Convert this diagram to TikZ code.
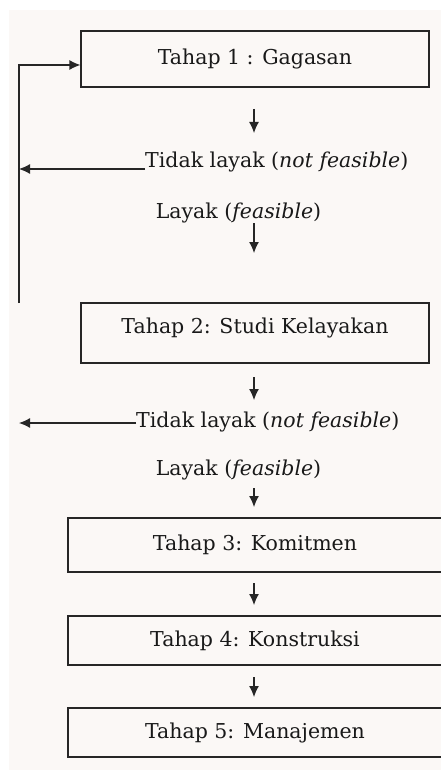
\documentclass[tikz,border=0pt]{standalone}
\usepackage{fontspec}
\setmainfont{DejaVu Serif}
\usetikzlibrary{arrows.meta}
\definecolor{kertas}{HTML}{FBF8F6}
\definecolor{tinta}{HTML}{262626}

\begin{document}
\begin{tikzpicture}[x=1pt,y=-1pt,
        tahap/.style={draw=tinta, line width=1.2pt, minimum width=#1, inner sep=0pt},
        panah/.style={-{Latex[length=11pt,width=10pt]}, line width=1.2pt, tinta},
        every node/.style={text=black!90, font=\fontsize{20.5}{24}\selectfont}]
                \useasboundingbox (0,0) rectangle (441,770);
                \fill[white](0,0) rectangle (441,770);
                \fill[kertas](9,10) rectangle (441,770);
                % tahap-tahap
                \node[tahap=348, minimum height=56](t1) at (255,59){Tahap 1 : Gagasan};
                \node[tahap=348, minimum height=60, text depth=14pt](t2) at (255,333){Tahap 2: Studi Kelayakan};
                \node[tahap=374, minimum height=54](t3) at (255,545){Tahap 3: Komitmen};
                \node[tahap=374, minimum height=49](t4) at (255,640.5){Tahap 4: Konstruksi};
                \node[tahap=374, minimum height=49](t5) at (255,732.5){Tahap 5: Manajemen};
                % keputusan
                \node[anchor=west, inner sep=0pt](tl1) at (145,162){Tidak layak (\textit{not feasible})};
                \node[inner sep=0pt](l1) at (238.5,213){Layak (\textit{feasible})};
                \node[anchor=west, inner sep=0pt](tl2) at (136,422){Tidak layak (\textit{not feasible})};
                \node[inner sep=0pt](l2) at (238.5,470){Layak (\textit{feasible})};
                % titik bantu
                \coordinate (a1) at (254,109);
                \coordinate (b1) at (254,133);
                \coordinate (a2) at (254,223);
                \coordinate (b2) at (254,253);
                \coordinate (a3) at (254,377);
                \coordinate (b3) at (254,400);
                \coordinate (a4) at (254,488);
                \coordinate (b4) at (254,507);
                \coordinate (a5) at (254,583);
                \coordinate (b5) at (254,605);
                \coordinate (a6) at (254,677);
                \coordinate (b6) at (254,697);
                \coordinate (kiri) at (19,303);
                \coordinate (kembali) at (19,169);
                \coordinate (keluar) at (19,423);
                \foreach \i in {1,...,6}
                    \draw[panah](a\i)--(b\i);
                \draw[panah](tl1.west |- kembali)--(kembali);
                \draw[panah](tl2.west |- keluar)--(keluar);
                \draw[panah](kiri)--(19,65)--(t1.west |- 0,65);
\end{tikzpicture}
\end{document}
